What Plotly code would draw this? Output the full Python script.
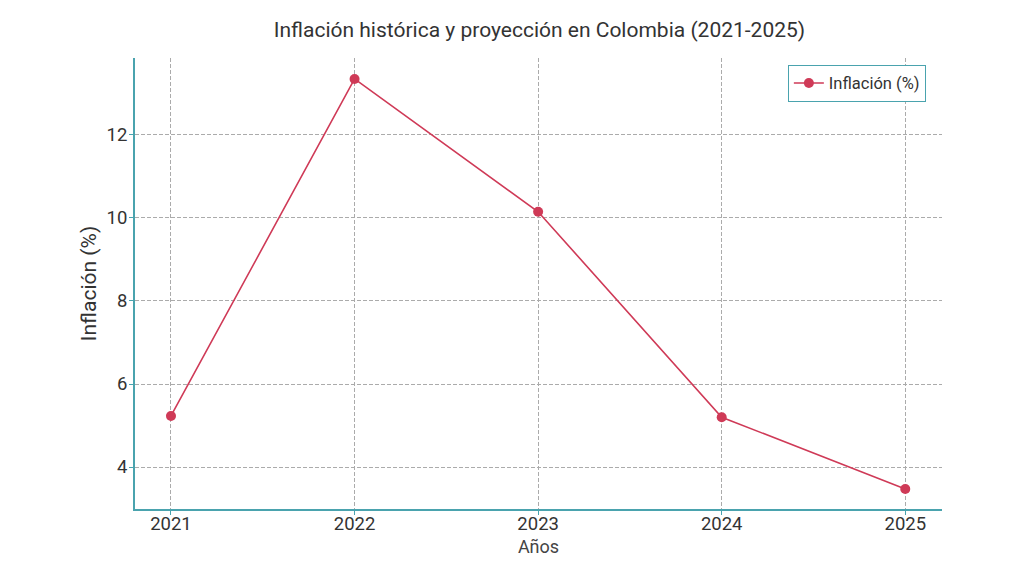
import plotly.graph_objects as go

years = [2021, 2022, 2023, 2024, 2025]
inflation = [5.23, 13.35, 10.15, 5.20, 3.47]
x_ticks = [2021, 2022, 2023, 2024, 2025]
y_ticks = [4, 6, 8, 10, 12]

line_color = "#cf3a57"
spine_color = "#4aa3ae"
grid_color = "#ababab"

fig = go.Figure()
fig.add_trace(go.Scatter(
    x=years, y=inflation, mode="lines+markers", name="Inflación (%)",
    line=dict(color=line_color, width=1.6),
    marker=dict(color=line_color, size=10),
))

fig.update_layout(
    width=1024, height=576,
    paper_bgcolor="white", plot_bgcolor="white",
    margin=dict(l=127, r=90, t=50, b=75, autoexpand=False),
    font=dict(family="Roboto", color="#333333"),
    title=dict(text="Inflación histórica y proyección en Colombia (2021-2025)",
               x=0.519, xanchor="center", y=0.962, yanchor="middle",
               font=dict(size=21, color="#333333")),
    showlegend=True,
    legend=dict(x=0.98, y=0.985, xanchor="right", yanchor="top",
                bordercolor=spine_color, borderwidth=1, bgcolor="white",
                font=dict(size=16.5, color="#333333")),
)
fig.update_xaxes(
    range=[2020.804, 2025.2], tickvals=x_ticks, ticktext=[str(t) for t in x_ticks],
    showline=True, linecolor=spine_color, linewidth=2,
    ticks="outside", tickcolor=spine_color, ticklen=4, ticklabelstandoff=-7,
    showgrid=True, gridcolor=grid_color, griddash="4px,2px", gridwidth=1.2,
    zeroline=False, tickfont=dict(size=18.5, color="#333333"), automargin=False,
    title=dict(text="Años", font=dict(size=18, color="#444444"), standoff=6),
)
fig.update_yaxes(
    range=[2.988, 13.855], tickvals=y_ticks,
    showline=True, linecolor=spine_color, linewidth=2,
    ticks="outside", tickcolor=spine_color, ticklen=4, ticklabelstandoff=-2,
    showgrid=True, gridcolor=grid_color, griddash="4px,2px", gridwidth=1.2,
    zeroline=False, tickfont=dict(size=18.5, color="#333333"), automargin=False,
    title=dict(text="Inflación (%)", font=dict(size=21, color="#333333"), standoff=4),
)

fig.write_html("out.html")
